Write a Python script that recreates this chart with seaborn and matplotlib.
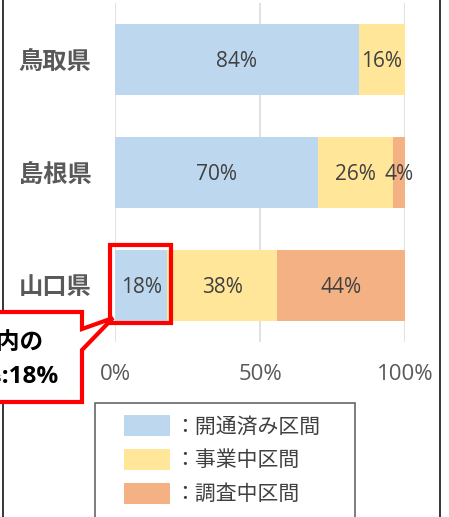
import numpy as np
import pandas as pd
import matplotlib
matplotlib.use("Agg")
import matplotlib.pyplot as plt
from matplotlib.patches import Patch, Polygon, Rectangle
from matplotlib.lines import Line2D
import seaborn as sns

# ── data ───────────────────────────────────────────────────────────────
prefs = ["鳥取県", "島根県", "山口県"]
opened = [84, 70, 18]      # 開通済み区間 (%)
building = [16, 26, 38]    # 事業中区間 (%)
surveying = [0, 4, 44]     # 調査中区間 (%)
series_names = ["開通済み区間", "事業中区間", "調査中区間"]
series_colors = ["#BDD7EE", "#FFE699", "#F4B183"]
x_ticks = [0, 50, 100]
callout_lines = ["山口県内の", "開通率:18%"]

# ── settings ───────────────────────────────────────────────────────────
W, H = 449, 517
sns.set_theme(style="white")
plt.rcParams["font.family"] = ["Open Sans", "Noto Sans CJK JP", "DejaVu Sans"]


def fx(px):
    return px / W


def fy(py):
    return 1 - py / H


df = pd.DataFrame({"pref": prefs, "opened": opened,
                   "building": building, "surveying": surveying})
df["cum_open"] = df["opened"]
df["cum_build"] = df["opened"] + df["building"]
df["cum_all"] = df["cum_build"] + df["surveying"]

fig = plt.figure(figsize=(W / 100, H / 100), dpi=100)
ax = fig.add_axes([fx(115), fy(342), fx(405) - fx(115), fy(3) - fy(342)])

# stacked bars: draw cumulative totals back to front
for col, c in zip(["cum_all", "cum_build", "cum_open"], series_colors[::-1]):
    sns.barplot(data=df, x=col, y="pref", orient="y", color=c, saturation=1,
                width=0.62, errorbar=None, linewidth=0, ax=ax)

# value labels centred in each segment
cum = np.zeros(len(prefs))
for vals in (opened, building, surveying):
    for i, v in enumerate(vals):
        if v > 0:
            ax.text(cum[i] + v / 2, i + 0.02, f"{v}%", ha="center", va="center",
                    fontsize=15, color="#404040")
    cum += np.array(vals)

ax.set_xlim(0, 100)
ax.set_xticks(x_ticks)
ax.set_xticklabels([f"{t}%" for t in x_ticks])
ax.set_xlabel("")
ax.set_ylabel("")
ax.grid(axis="x", color="#D9D9D9", lw=1.1)
ax.grid(axis="y", visible=False)
ax.set_axisbelow(True)
sns.despine(ax=ax, left=True, bottom=True)
ax.tick_params(axis="x", length=0, pad=16, labelsize=16, labelcolor="#595959")
ax.tick_params(axis="y", length=0, pad=17, labelsize=17.5, labelcolor="#595959")
for lab in ax.get_yticklabels():
    lab.set_fontweight("bold")

# red highlight round 山口県 opened section
i_y = prefs.index("山口県")
hl = Rectangle((-1.6, i_y - 0.31 - 0.045), opened[i_y] + 1.6 + 1.2, 0.62 + 0.045 + 0.02,
               fill=False, edgecolor="#FF0000", lw=3, clip_on=False, zorder=5)
ax.add_patch(hl)

# frame lines of the slide
for xp in (2.5, 440):
    fig.add_artist(Line2D([fx(xp), fx(xp)], [0, 1], color="black", lw=1.1))

# callout box (cut off at the left edge, as in the source slide)
pts = [(-10, 312), (82, 312), (82, 329), (113, 318), (82, 350), (82, 402), (-10, 402)]
callout = Polygon([(fx(a), fy(b)) for a, b in pts], closed=True,
                  transform=fig.transFigure, facecolor="white", edgecolor="#FF0000",
                  lw=3, joinstyle="miter", zorder=6)
fig.add_artist(callout)
fig.text(fx(44), fy(343), callout_lines[0], ha="right", va="center",
         fontsize=17, fontweight="bold", color="black", zorder=7)
fig.text(fx(58), fy(377), callout_lines[1], ha="right", va="center",
         fontsize=17.5, fontweight="bold", color="black", zorder=7)

# legend box (runs past bottom edge)
fig.add_artist(Rectangle((fx(95), fy(530)), fx(355) - fx(95), fy(403) - fy(530),
                         transform=fig.transFigure, fill=False,
                         edgecolor="#595959", lw=1.1))
handles = [Patch(facecolor=c, edgecolor="none") for c in series_colors]
fig.legend(handles, ["：" + n for n in series_names], loc="upper left",
           bbox_to_anchor=(fx(124), fy(415)), frameon=False, fontsize=15,
           handlelength=2.2, handleheight=1.2, handletextpad=0.2,
           labelspacing=0.53, borderpad=0, borderaxespad=0, labelcolor="#404040")

fig.savefig("out.png", dpi=100)
